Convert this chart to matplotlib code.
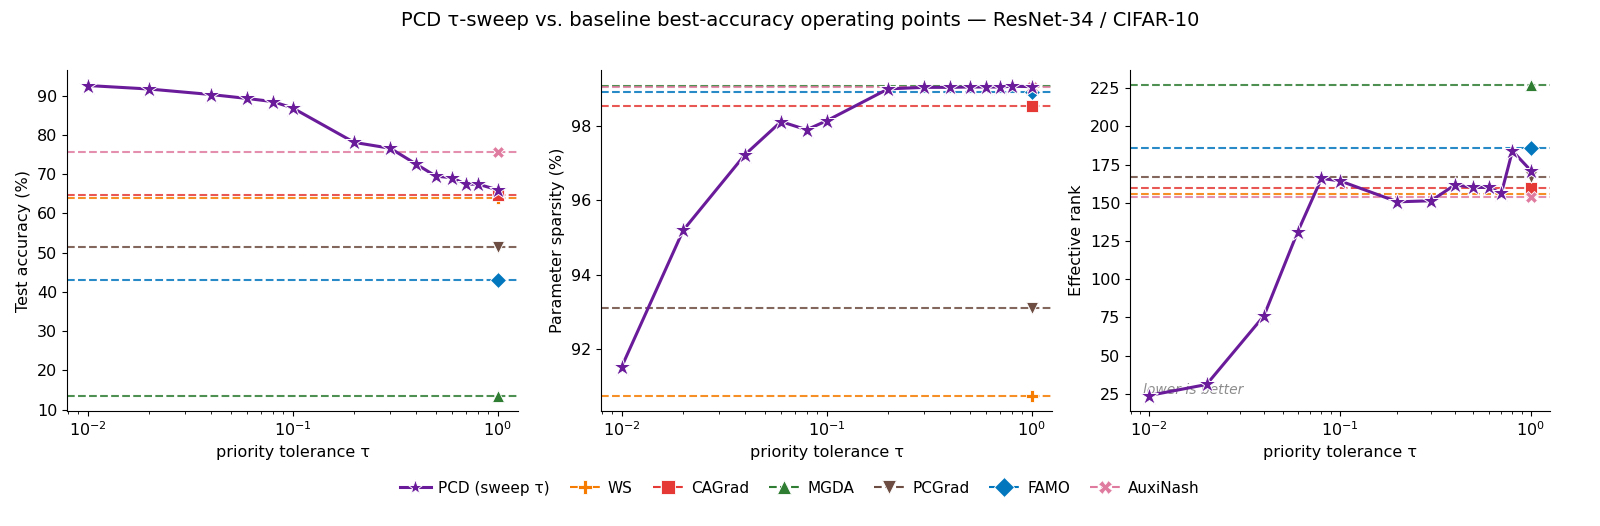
import matplotlib
matplotlib.use("Agg")
import matplotlib.pyplot as plt
from matplotlib.lines import Line2D

tau = [0.01, 0.02, 0.04, 0.06, 0.08, 0.1, 0.2, 0.3, 0.4, 0.5, 0.6, 0.7, 0.8, 1.0]
pcd_acc = [92.6, 91.7, 90.3, 89.3, 88.5, 86.9, 78.1, 76.6, 72.6, 69.5, 69.1, 67.4, 67.5, 66.0]
pcd_sparsity = [91.52, 95.2, 97.23, 98.12, 97.9, 98.14, 99.0, 99.04, 99.04, 99.05, 99.05, 99.05, 99.07, 99.06]
pcd_rank = [23.9, 31.1, 76.1, 130.9, 165.9, 164.3, 150.6, 151.3, 161.7, 160.0, 160.0, 156.1, 183.9, 171.0]

baselines = ["WS", "CAGrad", "MGDA", "PCGrad", "FAMO", "AuxiNash"]
base_acc = [64.0, 64.7, 13.6, 51.4, 43.1, 75.6]
base_sparsity = [90.76, 98.53, 99.09, 93.12, 98.91, 99.05]
base_rank = [155.7, 159.6, 226.7, 166.7, 185.9, 153.5]

base_colors = ["#f57c00", "#e53935", "#2e7d32", "#6d4c41", "#0277bd", "#e07ba0"]
base_markers = ["P", "s", "^", "v", "D", "X"]
pcd_color = "#6a1b9a"

plt.rcParams['font.family'] = ['DejaVu Sans']
fig = plt.figure(figsize=(16, 5.26), dpi=100)
W, H = 1600, 526
boxes = [(67, 451), (601, 451), (1130, 420)]
top, bottom = 70, 411
axes = [fig.add_axes([l / W, (H - bottom) / H, w / W, (bottom - top) / H]) for l, w in boxes]

metrics = [(pcd_acc, base_acc, "Test accuracy (%)"),
           (pcd_sparsity, base_sparsity, "Parameter sparsity (%)"),
           (pcd_rank, base_rank, "Effective rank")]

for ax, (pcd, base, ylabel) in zip(axes, metrics):
    for name, val, c, m in zip(baselines, base, base_colors, base_markers):
        ax.axhline(val, color=c, ls="--", lw=1.5, alpha=0.85, zorder=2)
        ax.plot([1.0], [val], marker=m, color=c, ms=8.5, mec="white", mew=0.6,
                ls="none", zorder=3)
    ax.plot(tau, pcd, color=pcd_color, lw=2.2, marker="*", ms=13.5,
            mec="white", mew=0.7, zorder=5)
    ax.set_xscale("log")
    ax.set_xlabel("priority tolerance τ", fontsize=11.5)
    ax.set_ylabel(ylabel, fontsize=11.5)
    ax.tick_params(labelsize=11.5)
    ax.spines["top"].set_visible(False)
    ax.spines["right"].set_visible(False)

axes[2].set_yticks([25, 50, 75, 100, 125, 150, 175, 200, 225])
axes[2].text(0.03, 0.05, "lower is better", transform=axes[2].transAxes,
             fontsize=10, color="gray", style="italic", alpha=0.9, zorder=1)

fig.suptitle("PCD τ-sweep vs. baseline best-accuracy operating points — ResNet-34 / CIFAR-10",
             fontsize=14, y=0.98)

handles = [Line2D([0], [0], color=pcd_color, lw=2.2, marker="*", ms=11, mec="white", mew=0.7,
                  label="PCD (sweep τ)")]
for name, c, m in zip(baselines, base_colors, base_markers):
    handles.append(Line2D([0], [0], color=c, ls="--", lw=1.5, marker=m, ms=10,
                          mec="white", mew=0.6, label=name))
fig.legend(handles=handles, loc="center", bbox_to_anchor=(0.5, 0.072), ncol=7,
           frameon=False, fontsize=11, handlelength=2.0, handletextpad=0.5,
           columnspacing=1.3)

fig.savefig("out.png", dpi=100)
